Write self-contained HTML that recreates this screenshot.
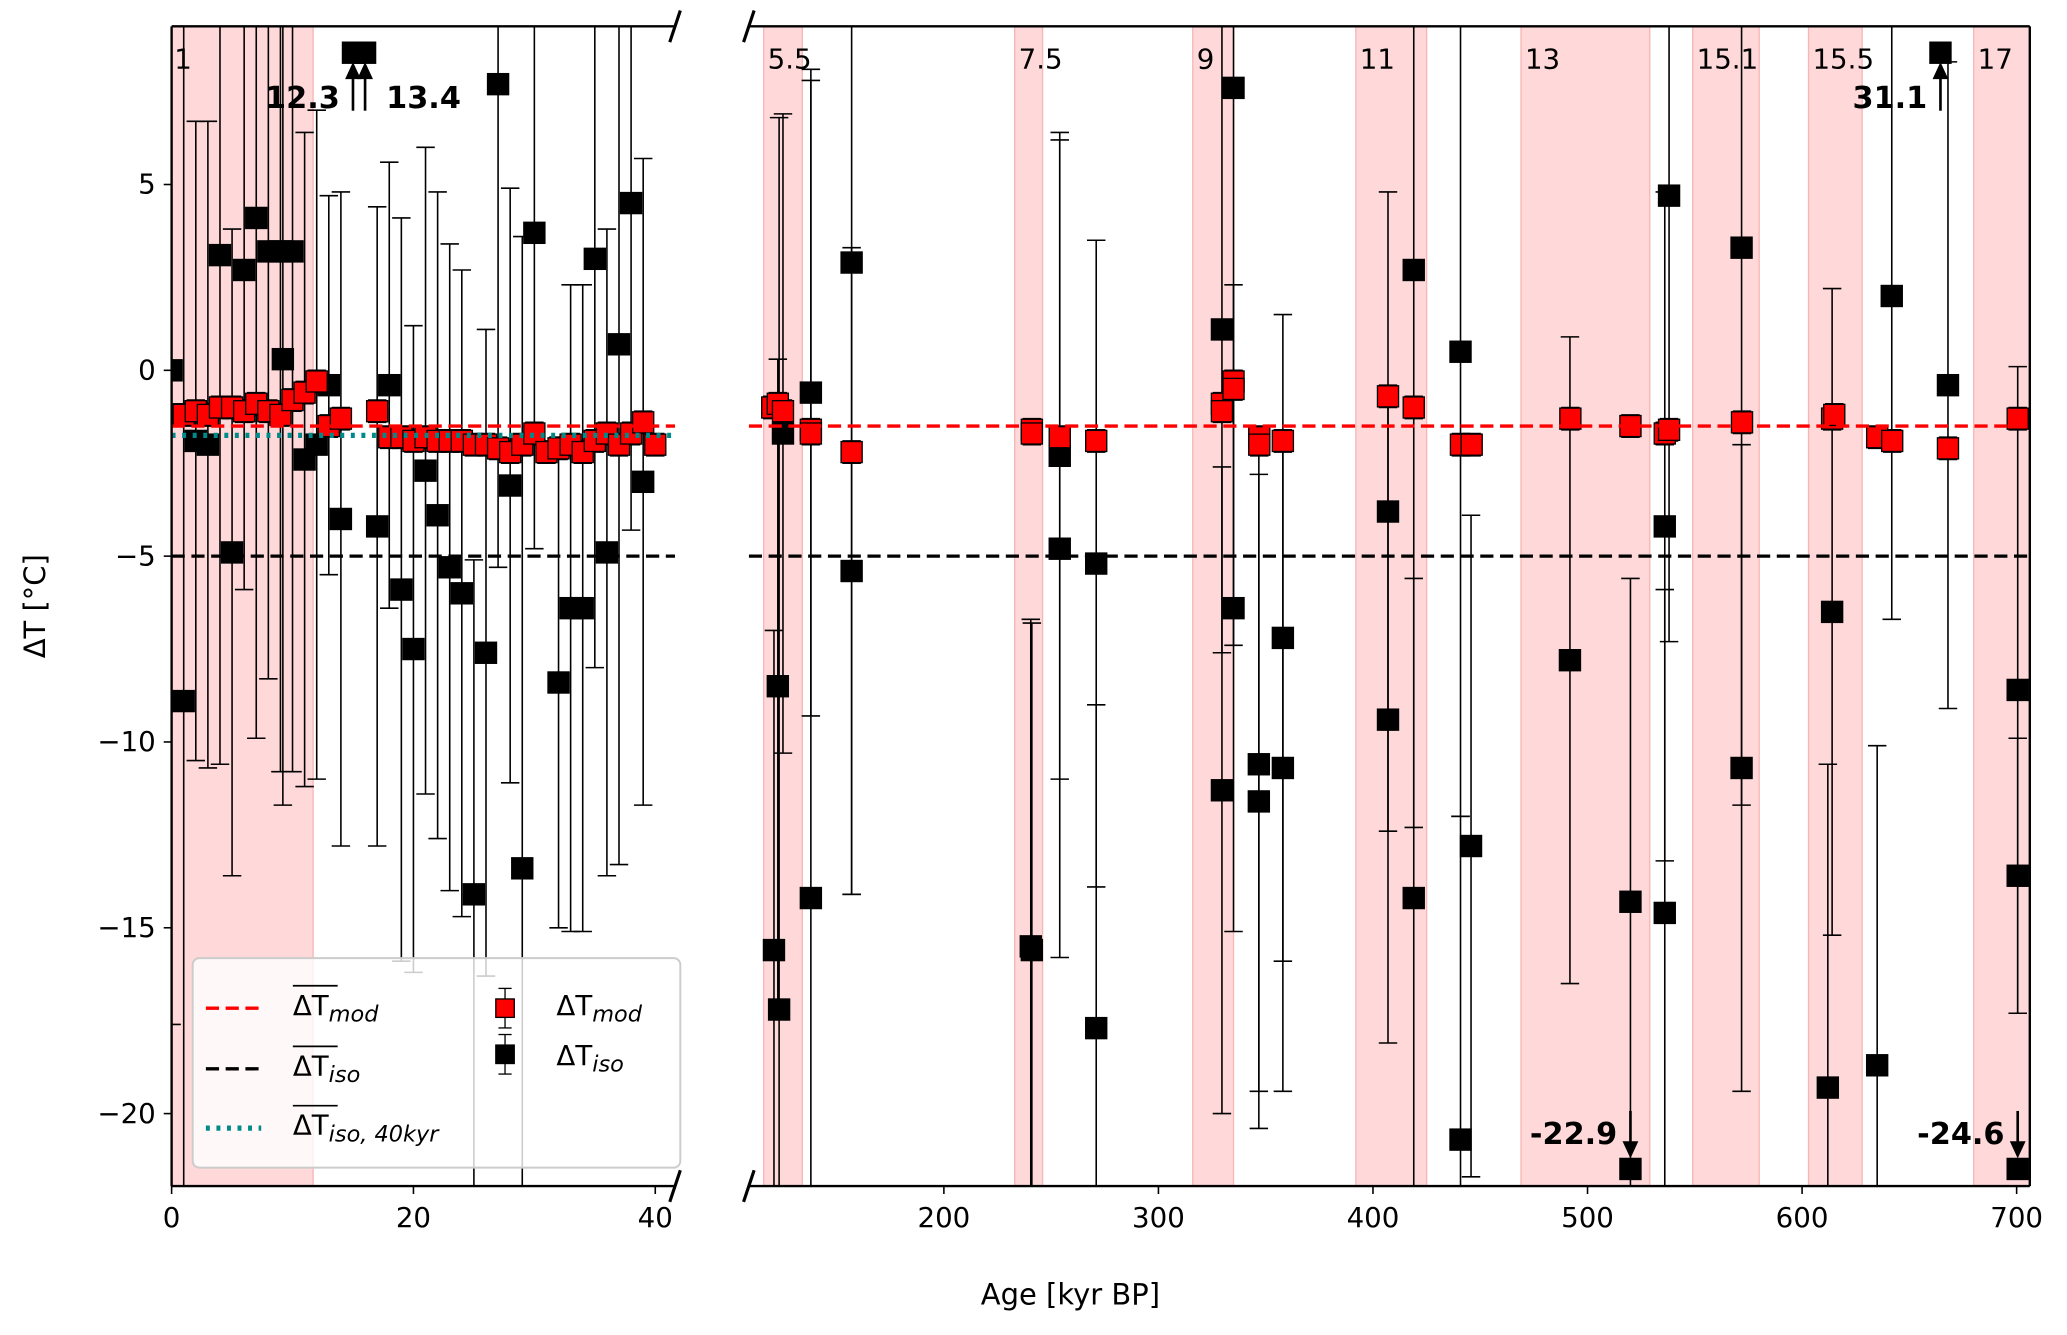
<!DOCTYPE html>
<html><head><meta charset="utf-8"><style>
html,body{margin:0;padding:0;width:2067px;height:1335px;overflow:hidden;background:#fff;position:relative}
svg{display:block;font-family:"DejaVu Sans","Liberation Sans",sans-serif}
</style></head><body>
<svg id="chart" width="2067" height="1335" viewBox="0 0 1568 1013" xmlns="http://www.w3.org/2000/svg" style="position:absolute;left:0;top:0">
<defs>
<clipPath id="clipL"><rect x="130" y="20" width="382" height="880"/></clipPath>
<clipPath id="clipR"><rect x="568" y="20" width="972" height="880"/></clipPath>
</defs>
<g id="root"></g>
</svg>
<script>
// ---- data ----
const yTicks=[5,0,-5,-10,-15,-20];
const xTicksL=[0,20,40];
const xTicksR=[200,300,400,500,600,700];
const shadeL=[[0,11.7]];
const shadeR=[[116,134],[233,246],[316,335],[392,425],[469,529],[549,580],[603,628],[680,706]];
const stageLabelsR=["5.5","7.5","9","11","13","15.1","15.5","17"];
const isoAgeL=[0,1,2,3,4,5,6,7,8,9,9.2,10,11,12,13,14,17,18,19,20,21,22,23,24,25,26,27,28,29,30,32,33,34,35,36,37,38,39];
const isoValL=[0,-8.9,-1.9,-2.0,3.1,-4.9,2.7,4.1,3.2,3.2,0.3,3.2,-2.4,-2.0,-0.4,-4.0,-4.2,-0.4,-5.9,-7.5,-2.7,-3.9,-5.3,-6.0,-14.1,-7.6,7.7,-3.1,-13.4,3.7,-8.4,-6.4,-6.4,3.0,-4.9,0.7,4.5,-3.0];
const isoErrL=[17.6,19,8.6,8.7,13.7,8.7,8.6,14,11.5,14,12,14,8.8,9,5.1,8.8,8.6,6,10,8.7,8.7,8.7,8.7,8.7,9,8.7,13,8,17,8.5,6.6,8.7,8.7,11,8.7,14,8.8,8.7];
const modAgeL=[0,1,2,3,4,5,6,7,8,9,10,11,12,13,14,17,18,19,20,21,22,23,24,25,26,27,28,29,30,31,32,33,34,35,36,37,38,39,40];
const modValL=[-1.2,-1.2,-1.1,-1.2,-1.0,-1.0,-1.1,-0.9,-1.1,-1.2,-0.8,-0.6,-0.3,-1.5,-1.3,-1.1,-1.8,-1.8,-1.9,-1.8,-1.9,-1.9,-1.9,-2.0,-2.0,-2.1,-2.2,-2.0,-1.7,-2.2,-2.1,-2.0,-2.2,-1.9,-1.7,-2.0,-1.7,-1.4,-2.0];
const isoAgeR=[120.8,122.6,123.2,125,138,138,157,157,240.5,241,254,254,271,271,329.6,329.6,335,335,346.8,346.8,358,358,407,407,419,419,440.8,440.8,445.7,491.8,520,536,536,538,571.8,571.8,614,612,635,641.8,668,700.5,700.5];
const isoValR=[-15.6,-8.5,-17.2,-1.7,-0.6,-14.2,-5.4,2.9,-15.5,-15.6,-2.3,-4.8,-5.2,-17.7,1.1,-11.3,7.6,-6.4,-10.6,-11.6,-7.2,-10.7,-3.8,-9.4,2.7,-14.2,0.5,-20.7,-12.8,-7.8,-14.3,-4.2,-14.6,4.7,3.3,-10.7,-6.5,-19.3,-18.7,2.0,-0.4,-8.6,-13.6];
const isoErrR=[8.6,8.8,24,8.6,8.7,22,8.7,17,8.8,8.8,8.7,11,8.7,8.7,8.7,8.7,15,8.7,8.8,8.8,8.7,8.7,8.6,8.7,15,8.6,12.5,8.7,8.9,8.7,8.7,9,8.7,12,15,8.7,8.7,8.7,8.6,8.7,8.7,8.7,3.7];
const modAgeR=[120,122.6,125,138,138,157,241,241,254,271,329.6,329.6,335,335,347,347,358,407,419,441,446,492,520,536,538,572,614,615,635,642,668,700.5];
const modValR=[-1.0,-0.9,-1.1,-1.6,-1.7,-2.2,-1.6,-1.7,-1.8,-1.9,-0.9,-1.1,-0.3,-0.5,-1.8,-2.0,-1.9,-0.7,-1.0,-2.0,-2.0,-1.3,-1.5,-1.7,-1.6,-1.4,-1.3,-1.2,-1.8,-1.9,-2.1,-1.3];
const meanMod=-1.5, meanIso=-5.0, meanIso40=-1.75;
const arrowsUp=[["L",15,"12.3","end"],["L",16,"13.4","start"],["R",664.5,"31.1","end"]];
const arrowsDown=[["R",520,"-22.9"],["R",700.5,"-24.6"]];

// ---- axes ----
const X0L=130,X1L=512,X0R=568,X1R=1540,Y0=20,Y1=900;
const xL=v=>130+v*9.175;
const xR=v=>716+(v-200)*1.628;
const y=v=>281-v*28.2;
const NS="http://www.w3.org/2000/svg";
const root=document.getElementById('root');
function el(tag,attrs,parent,text){const e=document.createElementNS(NS,tag);for(const k in attrs)e.setAttribute(k,attrs[k]);if(text!==undefined)e.textContent=text;(parent||root).appendChild(e);return e;}

const gL=el('g',{'clip-path':'url(#clipL)'});


const gR=el('g',{'clip-path':'url(#clipR)'});



shadeL.forEach(s=>{const r=el('rect',{x:xL(s[0]),y:Y0,width:xL(s[1])-xL(s[0]),height:Y1-Y0,fill:'#ffd9d9',stroke:'#f7b5b5','stroke-width':1},gL);

});
shadeR.forEach((s,i)=>{const r=el('rect',{x:xR(s[0]),y:Y0,width:Math.min(xR(s[1]),X1R)-xR(s[0]),height:Y1-Y0,fill:'#ffd9d9',stroke:'#f7b5b5','stroke-width':1},gR);


const t=el('text',{x:xR(s[0])+3,y:52,'font-size':21},root,stageLabelsR[i]);

});
{const t=el('text',{x:132,y:52,'font-size':21},root,"1");

}

function hline(g,x0,x1,v,color,dash,w,name){const l=el('line',{x1:x0,x2:x1,y1:y(v),y2:y(v),stroke:color,'stroke-width':w,'stroke-dasharray':dash},g);

}

const clampY=p=>Math.max(Y0,Math.min(Y1,p));
function errbar(g,px,v,e,name){const gg=el('g',{},g);


el('line',{x1:px,x2:px,y1:clampY(y(v-e)),y2:clampY(y(v+e)),stroke:'#000','stroke-width':1.2},gg);
[v-e,v+e].forEach(c=>{const py=y(c);if(py>=Y0&&py<=Y1)el('line',{x1:px-7,x2:px+7,y1:py,y2:py,stroke:'#000','stroke-width':1.2},gg);});}
function marker(g,px,py,fill,name){const r=el('rect',{x:px-8,y:py-8,width:16,height:16,fill:fill,stroke:'#000','stroke-width':1},g);

}

isoAgeL.forEach((a,i)=>errbar(gL,xL(a),isoValL[i],isoErrL[i],'iso-errorbar'));
isoAgeL.forEach((a,i)=>marker(gL,xL(a),y(isoValL[i]),'#000','iso-point'));
isoAgeR.forEach((a,i)=>errbar(gR,xR(a),isoValR[i],isoErrR[i],'iso-errorbar'));
isoAgeR.forEach((a,i)=>marker(gR,xR(a),y(isoValR[i]),'#000','iso-point'));
hline(gL,X0L,X1L,meanIso,'#000','10 5',2.5,'mean-iso-line');
hline(gR,X0R,X1R,meanIso,'#000','10 5',2.5,'mean-iso-line');
modAgeL.forEach((a,i)=>errbar(gL,xL(a),modValL[i],0.3,'mod-errorbar'));
modAgeL.forEach((a,i)=>marker(gL,xL(a),y(modValL[i]),'#ff0000','mod-point'));
modAgeR.forEach((a,i)=>errbar(gR,xR(a),modValR[i],0.3,'mod-errorbar'));
modAgeR.forEach((a,i)=>marker(gR,xR(a),y(modValR[i]),'#ff0000','mod-point'));
hline(gL,X0L,X1L,meanMod,'#ff0000','10 5',2.5,'mean-mod-line');
hline(gR,X0R,X1R,meanMod,'#ff0000','10 5',2.5,'mean-mod-line');
hline(gL,X0L,X1L,meanIso40,'#008b8b','3 5',4,'mean-iso-40kyr-line');

function arrowHead(px,tipY,dir){return el('polygon',{points:`${px},${tipY} ${px-6},${tipY-dir*13} ${px+6},${tipY-dir*13}`,fill:'#000'});}
arrowsUp.forEach(a=>{const px=a[0]=="L"?xL(a[1]):xR(a[1]);
marker(root,px,40,'#000','offscale-iso-point');
const l=el('line',{x1:px,x2:px,y1:84,y2:55,stroke:'#000','stroke-width':2});


arrowHead(px,47,-1);
const tx=a[3]=="end"?px-10:px+16;
const t=el('text',{x:tx,y:82,'font-size':23,'font-weight':'bold','text-anchor':a[3]},root,a[2]);

});
arrowsDown.forEach(a=>{const px=xR(a[1]);
marker(root,px,887,'#000','offscale-iso-point');
const l=el('line',{x1:px,x2:px,y1:843,y2:872,stroke:'#000','stroke-width':2});


arrowHead(px,879,1);
const t=el('text',{x:px-10,y:868,'font-size':23,'font-weight':'bold','text-anchor':'end'},root,a[2]);

});

const sp=el('g',{stroke:'#000','stroke-width':1.8,fill:'none'});


el('line',{x1:X0L,x2:X0L,y1:Y0,y2:Y1},sp);el('line',{x1:X0L,x2:X1L,y1:Y0,y2:Y0},sp);el('line',{x1:X0L,x2:X1L,y1:Y1,y2:Y1},sp);
el('line',{x1:X1R,x2:X1R,y1:Y0,y2:Y1},sp);el('line',{x1:X0R,x2:X1R,y1:Y0,y2:Y0},sp);el('line',{x1:X0R,x2:X1R,y1:Y1,y2:Y1},sp);
[[X1L,Y0],[X1L,Y1],[X0R,Y0],[X0R,Y1]].forEach(p=>el('line',{x1:p[0]-4,x2:p[0]+4,y1:p[1]+12,y2:p[1]-12,'stroke-width':2.4},sp));

yTicks.forEach(v=>{el('line',{x1:X0L-6,x2:X0L,y1:y(v),y2:y(v),stroke:'#000','stroke-width':1.2});
const t=el('text',{x:X0L-12,y:y(v)+7,'font-size':21,'text-anchor':'end'},root,v<0?'\u2212'+(-v):String(v));

});
xTicksL.forEach(v=>{el('line',{x1:xL(v),x2:xL(v),y1:Y1,y2:Y1+6,stroke:'#000','stroke-width':1.2});
const t=el('text',{x:xL(v),y:Y1+31,'font-size':21,'text-anchor':'middle'},root,String(v));

});
xTicksR.forEach(v=>{el('line',{x1:xR(v),x2:xR(v),y1:Y1,y2:Y1+6,stroke:'#000','stroke-width':1.2});
const t=el('text',{x:xR(v),y:Y1+31,'font-size':21,'text-anchor':'middle'},root,String(v));

});
</script>
<svg style="position:absolute;left:0;top:0" width="2067" height="1335" viewBox="0 0 1568 1013" xmlns="http://www.w3.org/2000/svg" font-family="DejaVu Sans, Liberation Sans, sans-serif">
<text x="0" y="0" font-size="22" text-anchor="middle" transform="translate(34,460) rotate(-90)">ΔT [°C]</text>
<text x="812" y="990" font-size="22" text-anchor="middle">Age [kyr BP]</text>
<g>
<rect x="146" y="727" width="370" height="159" rx="5" fill="#fff" fill-opacity="0.8" stroke="#ccc" stroke-width="1.5"/>
<g><line x1="156" x2="198" y1="765" y2="765" stroke="#f00" stroke-width="2.5" stroke-dasharray="10 5"/>
<line x1="222" x2="256" y1="748" y2="748" stroke="#000" stroke-width="1.3"/><text x="222" y="770" font-size="21">ΔT<tspan font-style="italic" font-size="17" dy="5">mod</tspan></text></g>
<g><line x1="156" x2="198" y1="811" y2="811" stroke="#000" stroke-width="2.5" stroke-dasharray="10 5"/>
<line x1="222" x2="256" y1="794" y2="794" stroke="#000" stroke-width="1.3"/><text x="222" y="816" font-size="21">ΔT<tspan font-style="italic" font-size="17" dy="5">iso</tspan></text></g>
<g><line x1="156" x2="198" y1="856" y2="856" stroke="#008b8b" stroke-width="4" stroke-dasharray="3 5"/>
<line x1="222" x2="256" y1="839" y2="839" stroke="#000" stroke-width="1.3"/><text x="222" y="861" font-size="21">ΔT<tspan font-style="italic" font-size="17" dy="5">iso, 40kyr</tspan></text></g>
<g><line x1="383" x2="383" y1="750" y2="780" stroke="#000"/><line x1="378" x2="388" y1="750" y2="750" stroke="#000"/><line x1="378" x2="388" y1="780" y2="780" stroke="#000"/><rect x="376" y="758" width="14" height="14" fill="#f00" stroke="#000"/>
<text x="422" y="770" font-size="21">ΔT<tspan font-style="italic" font-size="17" dy="5">mod</tspan></text></g>
<g><line x1="383" x2="383" y1="785" y2="815" stroke="#000"/><line x1="378" x2="388" y1="785" y2="785" stroke="#000"/><line x1="378" x2="388" y1="815" y2="815" stroke="#000"/><rect x="376" y="793" width="14" height="14" fill="#000" stroke="#000"/>
<text x="422" y="808" font-size="21">ΔT<tspan font-style="italic" font-size="17" dy="5">iso</tspan></text></g>
</g>
</svg>
</body></html>
